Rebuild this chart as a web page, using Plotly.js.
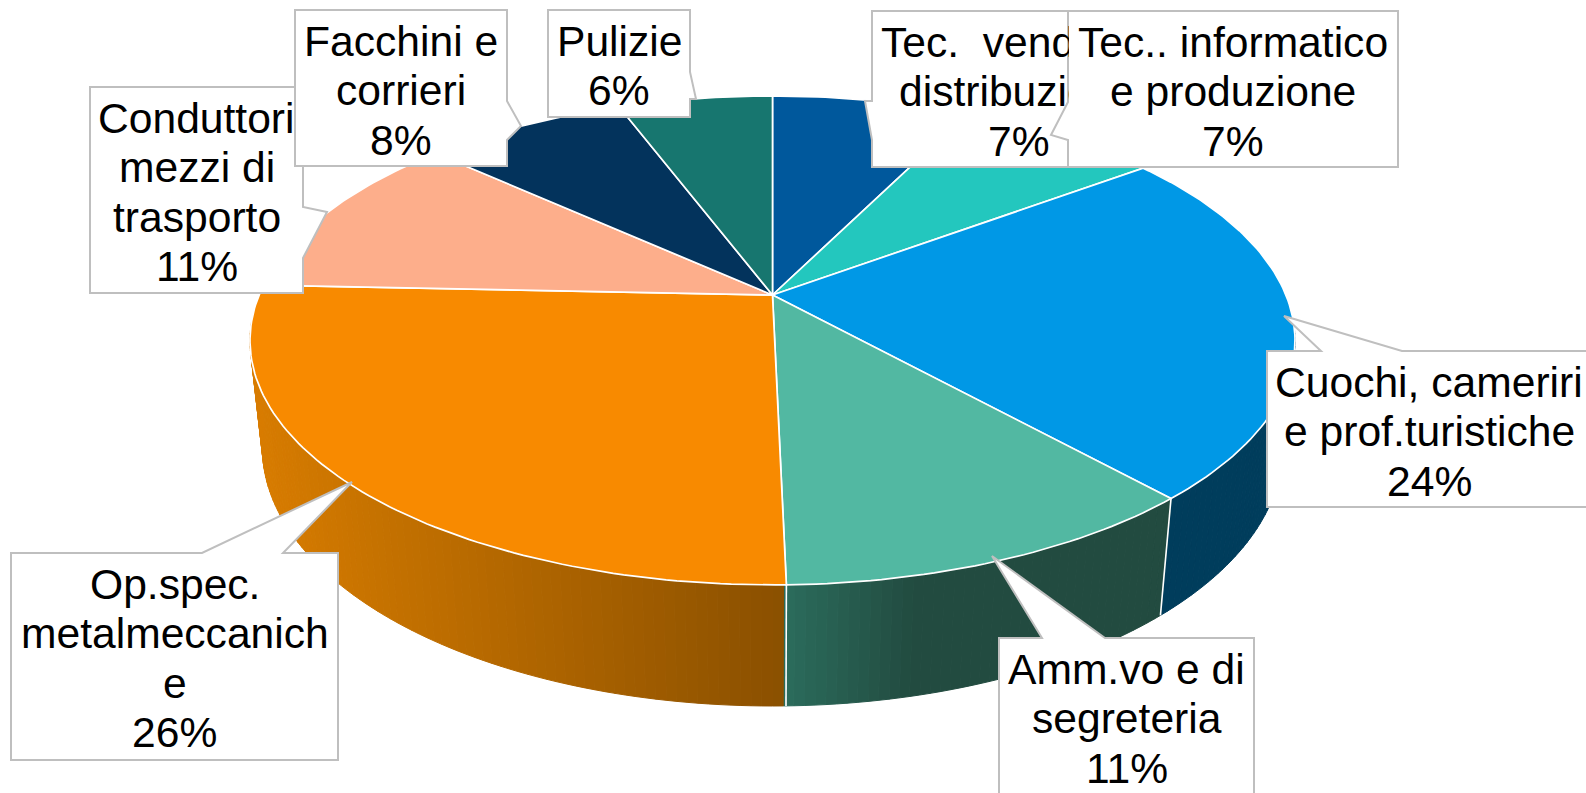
<!DOCTYPE html>
<html><head><meta charset="utf-8">
<script src="https://cdn.plot.ly/plotly-3.0.1.min.js"></script>
<style>html,body{margin:0;padding:0;background:#fff;overflow:hidden}</style>
</head><body><div id="chart" style="width:1586px;height:793px"></div>
<script>
// ---- data ----
const categories = ["Tec. vendita e distribuzione","Tec.. informatico e produzione","Cuochi, cameriri e prof.turistiche","Amm.vo e di segreteria","Op.spec. metalmeccaniche","Conduttori mezzi di trasporto","Facchini e corrieri","Pulizie"];
const shares = [7.3, 7.5, 23.5, 11.3, 26.0, 11.1, 7.5, 5.7];
const percentLabels = ["7%","7%","24%","11%","26%","11%","8%","6%"];
const labelLines = [
  ["Tec.\u00a0\u00a0vendita e","distribuzione"],
  ["Tec.. informatico","e produzione"],
  ["Cuochi, cameriri","e prof.turistiche"],
  ["Amm.vo e di","segreteria"],
  ["Op.spec.","metalmeccanich","e"],
  ["Conduttori","mezzi di","trasporto"],
  ["Facchini e","corrieri"],
  ["Pulizie"]
];
const topColors  = ["#00589C","#23C7BE","#0098E6","#52B8A2","#F88A00","#FDAE8B","#03335C","#17766F"];
const wallNear   = ["#00589C","#23C7BE","#003D5C","#2B6C5C","#8A5000","#FDAE8B","#03335C","#17766F"];
const wallFar    = ["#00589C","#23C7BE","#003D5C","#224B40","#D87C00","#FDAE8B","#03335C","#17766F"];

// ---- view: pixel-sized axes and a perspective projection of the pie ----
const W = 1586, H = 793;
const cx = 772.5, cy = 295, A = 513.4, B = 236, K = 0.186, M = 0.0235, C = 108.2;
function project(deg, z) {
  const t = deg * Math.PI / 180, u = Math.sin(t), v = -Math.cos(t), w = 1 - K * v + M * z;
  return [cx + A * u / w, cy + (B * v + C * z) / w];
}
const total = shares.reduce((a, b) => a + b, 0);
const edges = [0];
shares.forEach(s => edges.push(edges[edges.length - 1] + s / total * 360));

function hexMix(a, b, t) {
  const p = h => [1, 3, 5].map(i => parseInt(h.substr(i, 2), 16));
  const x = p(a), y = p(b);
  return "rgb(" + x.map((c, i) => Math.round(c + (y[i] - c) * t)).join(",") + ")";
}
const traces = [];
function poly(pts, fill, line, width) {
  traces.push({type: "scatter", mode: "lines", x: pts.map(p => p[0]), y: pts.map(p => p[1]),
    fill: fill ? "toself" : "none", fillcolor: fill || undefined,
    line: {color: line, width: width}, hoverinfo: "skip", showlegend: false});
}
// outer wall, split in narrow strips to give the shading
const gradSpan = {3: 130, 4: 535};
const step = 1;
for (let d = 96; d < 264; d += step) {
  const idx = edges.findIndex((e, i) => d + step / 2 >= e && d + step / 2 < edges[i + 1]);
  const p0 = project(d, 0), p1 = project(d + step, 0), p2 = project(d + step, 1), p3 = project(d, 1);
  const span = gradSpan[idx] || 1;
  const t = Math.min(1, Math.abs((p0[0] + p1[0]) / 2 - 785) / span);
  const col = hexMix(wallNear[idx], wallFar[idx], idx === 2 ? 0 : t);
  poly([p0, p1, p2, p3, p0], col, col, 1);
}
// white seams on the wall between the visible slices
[3, 4].forEach(i => poly([project(edges[i], 0), project(edges[i], 1)], null, "#ffffff", 1.6));
// top of the pie
shares.forEach((s, i) => {
  const pts = [[cx, cy]];
  for (let d = edges[i]; d < edges[i + 1]; d += 1) pts.push(project(d, 0));
  pts.push(project(edges[i + 1], 0), [cx, cy]);
  poly(pts, topColors[i], "#ffffff", 1.7);
});

// ---- callouts: outline, text box left/right/top in pixels ----
const callouts = [
  {box: [872, 1165, 11],  path: [[872,11],[1165,11],[1165,167],[872,167],[872,140],[865,101],[872,101]]},
  {box: [1068,1398, 11],  path: [[1068,11],[1398,11],[1398,167],[1068,167],[1068,140],[1051,135],[1068,102]], mask: [1069,12,328,154]},
  {box: [1267,1591,351],  path: [[1267,351],[1321,351],[1284,316],[1402,351],[1595,351],[1595,507],[1267,507]]},
  {box: [999, 1254,638],  path: [[999,638],[1042,638],[992,556],[1105,638],[1254,638],[1254,800],[999,800]]},
  {box: [11,  338, 553],  path: [[11,553],[202,553],[352,482],[283,553],[338,553],[338,760],[11,760]]},
  {box: [90,  303,  87],  path: [[90,87],[303,87],[303,207],[327,212],[303,258],[303,293],[90,293]]},
  {box: [295, 507,  10],  path: [[295,10],[507,10],[507,101],[521,126],[507,140],[507,166],[295,166]], mask: [296,11,210,154]},
  {box: [548, 690,  10],  path: [[548,10],[690,10],[690,72],[696,99],[690,99],[690,117],[548,117]]}
];
const shapes = callouts.map(c => ({
  type: "path", xref: "x", yref: "y", layer: "above",
  path: "M" + c.path.map(p => p.join(",")).join("L") + "Z",
  fillcolor: "#ffffff", line: {color: "#BFBFBF", width: 2}
}));
const annotations = [];
const font = {family: "Liberation Sans, Arial, sans-serif", size: 42.6, color: "#000000"};
callouts.forEach((c, i) => {
  if (c.mask) annotations.push({x: c.mask[0], y: c.mask[1], xref: "x", yref: "y", xanchor: "left", yanchor: "top",
    text: " ", showarrow: false, width: c.mask[2], height: c.mask[3], bgcolor: "#ffffff", borderpad: 0, borderwidth: 0, font: {size: 10}});
  const lines = labelLines[i].concat([percentLabels[i]]);
  lines.forEach((t, j) => annotations.push({
    x: (c.box[0] + c.box[1]) / 2, y: c.box[2] + 45 + 49.3 * j - 14, xref: "x", yref: "y",
    xanchor: "center", yanchor: "middle", text: t, showarrow: false, font: font, borderpad: 0, borderwidth: 0
  }));
});

Plotly.newPlot("chart", traces, {
  width: W, height: H, autosize: false, showlegend: false,
  margin: {l: 0, r: 0, t: 0, b: 0, pad: 0},
  paper_bgcolor: "#ffffff", plot_bgcolor: "#ffffff",
  xaxis: {range: [0, W], visible: false, fixedrange: true},
  yaxis: {range: [H, 0], visible: false, fixedrange: true},
  shapes: shapes, annotations: annotations
}, {displayModeBar: false, staticPlot: true});
</script></body></html>
